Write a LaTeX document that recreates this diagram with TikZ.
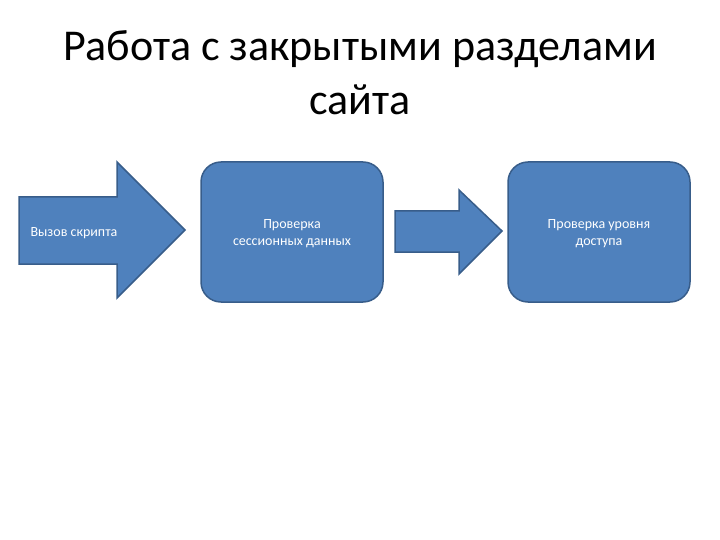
\documentclass[tikz,border=0pt]{standalone}
\usepackage{fontspec}
\setmainfont{Carlito}
\definecolor{fillb}{HTML}{4F81BD}
\definecolor{lineb}{HTML}{385D8A}
\begin{document}
\begin{tikzpicture}[x=1pt,y=-1pt,
  shapeb/.style={fill=fillb,draw=lineb,line width=1.5pt,line join=miter},
  txt/.style={text=white,font=\fontsize{14}{17}\selectfont,align=center}]
\useasboundingbox (0,0) rectangle (720,540);
\node[font=\fontsize{44}{54}\selectfont,align=center] (title) at (360,73) {Работа с закрытыми разделами\\сайта};
\draw[shapeb] (19,197) -- (117,197) -- (117,162) -- (185,230) -- (117,298) -- (117,264) -- (19,264) -- cycle;
\node[txt,anchor=west] (a1) at (27,233) {Вызов скрипта};
\draw[shapeb,rounded corners=20pt] (201,162) rectangle (383,302);
\node[txt] (b1) at (292,234) {Проверка\\сессионных данных};
\draw[shapeb] (395,211) -- (459,211) -- (459,190) -- (502,231) -- (459,274) -- (459,252) -- (395,252) -- cycle;
\draw[shapeb,rounded corners=20pt] (508,162) rectangle (690,302);
\node[txt] (b2) at (599,234) {Проверка уровня\\доступа};
\end{tikzpicture}
\end{document}
